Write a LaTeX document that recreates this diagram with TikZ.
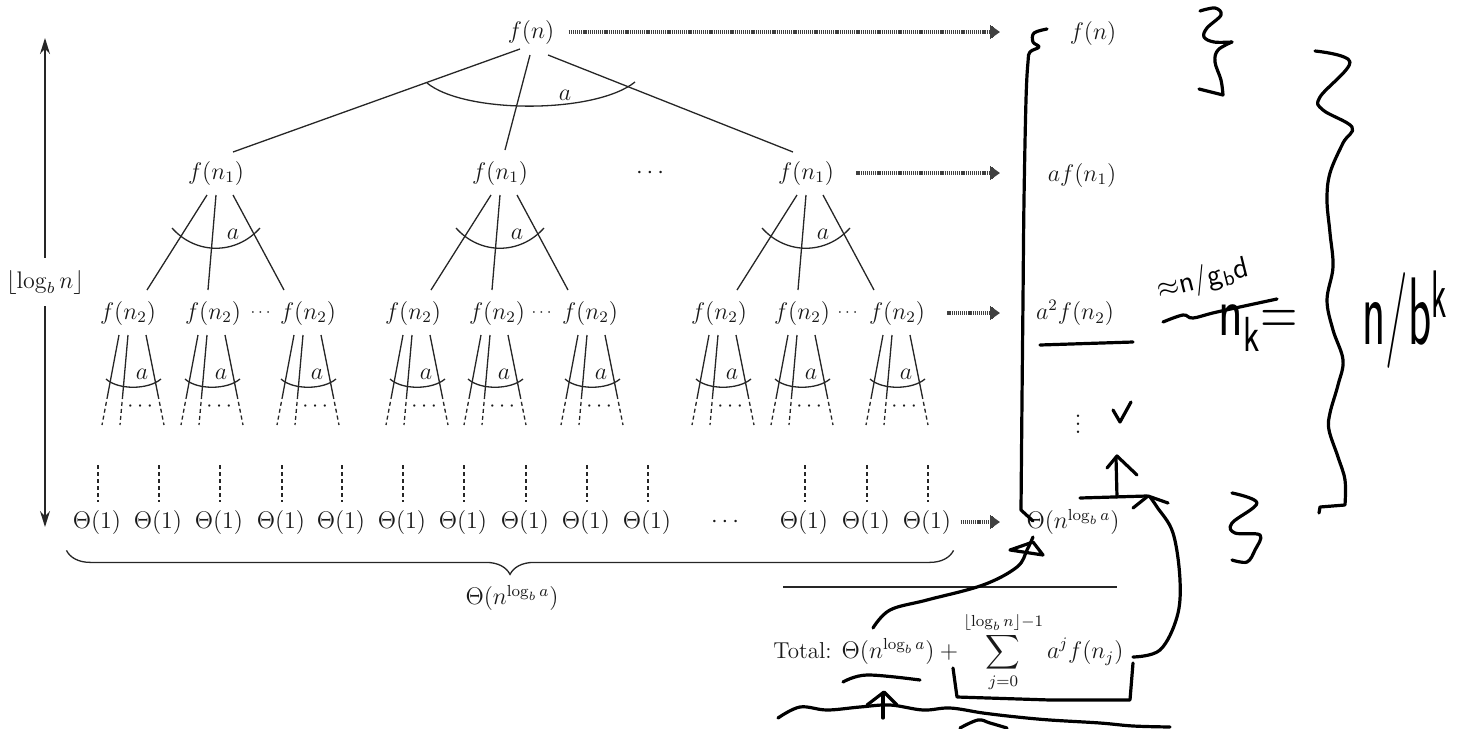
\documentclass[tikz,border=0pt]{standalone}
\usepackage{amsmath}
\usetikzlibrary{arrows.meta,calc,decorations.pathreplacing}
\begin{document}
\begin{tikzpicture}[x=0.5pt,y=-0.5pt,
  lbl/.style={inner sep=1pt,font=\fontsize{11.5}{13}\selectfont,text=black!90},
  smalldots/.style={inner sep=0pt,font=\fontsize{8.5}{10}\selectfont,text=black!90},
  edge/.style={line width=0.65pt,draw=black!85},
  dash2/.style={edge,dash pattern=on 2pt off 1.5pt},
  dotarrow/.style={line width=2pt,draw=black!75,dash pattern=on 0.6pt off 0.45pt,
    -{Bar[width=7pt,line width=0.7pt]Bar[width=6pt,line width=0.7pt]Bar[width=5pt,line width=0.7pt]Triangle[length=3pt,width=4pt]}},
  hand/.style={line width=1.6pt,line cap=round,line join=round,draw=black},
  handtext/.style={inner sep=0pt,text=black,font=\sffamily}
]
\useasboundingbox (0,0) rectangle (1458,729);
\coordinate (ax) at (1000,0);

% ---- root and level 1
\node[lbl] (r) at (531,32) {$f(n)$};
\node[lbl] (c1) at (216,173) {$f(n_1)$};
\node[lbl] (c2) at (500,173) {$f(n_1)$};
\node[lbl] (c3) at (806,173) {$f(n_1)$};
\node[lbl] (cd) at (652,173) {$\cdots$};

\draw[edge] ($(r)+(-11,17)$) -- ($(c1)+(17,-21)$);
\draw[edge] ($(r)+(-1,23)$) -- ($(c2)+(5,-23)$);
\draw[edge] ($(r)+(17,23)$) -- ($(c3)+(-13,-21)$);
\draw[edge] ($(r)+(-104,51)$) .. controls ($(r)+(-66,82)$) and ($(r)+(64,82)$) .. ($(r)+(104,50)$);
\node[lbl] (ar) at ($(r)+(34,63)$) {$a$};

\foreach \c in {c1,c2,c3} {
  \draw[edge] ($(\c)+(-9,22)$) -- ($(\c)+(-69,117)$);
  \draw[edge] ($(\c)+(0,22)$) -- ($(\c)+(-8,117)$);
  \draw[edge] ($(\c)+(17,22)$) -- ($(\c)+(68,117)$);
  \draw[edge] ($(\c)+(-44,55)$) .. controls ($(\c)+(-20,82)$) and ($(\c)+(20,82)$) .. ($(\c)+(44,55)$);
  \node[lbl] (a\c) at ($(\c)+(17,61)$) {$a$};
}

% ---- level 2
\foreach \x/\d [count=\i] in {128/0,213/-6,308/-5,413/-1,497/-7,590/-3,719/-1,802/-5,897/-5} {
  \node[lbl] (g\i) at (\x,313) {$f(n_2)$};
  \draw[edge] ($(g\i)+(\d-9,22)$) -- ($(g\i)+(\d-20.3,82)$);
  \draw[dash2] ($(g\i)+(\d-20.3,82)$) -- ($(g\i)+(\d-26,112)$);
  \draw[edge] ($(g\i)+(\d,22)$) -- ($(g\i)+(\d-5.3,82)$);
  \draw[dash2] ($(g\i)+(\d-5.3,82)$) -- ($(g\i)+(\d-8,112)$);
  \draw[edge] ($(g\i)+(\d+18,22)$) -- ($(g\i)+(\d+30,82)$);
  \draw[dash2] ($(g\i)+(\d+30,82)$) -- ($(g\i)+(\d+36,112)$);
  \draw[edge] ($(g\i)+(\d-22,66)$) .. controls ($(g\i)+(\d-10,77)$) and ($(g\i)+(\d+20,77)$) .. ($(g\i)+(\d+33,66)$);
  \node[lbl] (ga\i) at ($(g\i)+(\d+14,61)$) {$a$};
  \node[lbl,font=\fontsize{10.5}{12}\selectfont] (gd\i) at ($(g\i)+(\d+14,94)$) {$\cdots$};
}
\node[smalldots] (d1) at (262,313) {$\cdots$};
\node[smalldots] (d2) at (543,313) {$\cdots$};
\node[smalldots] (d3) at (849,313) {$\cdots$};

% ---- leaves
\foreach \x [count=\i] in {97,158,219,281,341,402,463,525,586,647,804,866,927} {
  \node[lbl] (t\i) at (\x,522) {$\Theta(1)$};
  \draw[dash2,line width=0.55pt] ($(t\i)+(1,-57)$) -- ($(t\i)+(1,-20)$);
}
\node[lbl] (td) at (727,522) {$\cdots$};

% ---- height arrow
\coordinate (lt) at (45,38);
\coordinate (lb) at (45,527);
\draw[edge,{Stealth[length=8pt,width=5pt]}-{Stealth[length=8pt,width=5pt]}] (lt) -- (lb);
\node[lbl,fill=white,inner ysep=6pt] (lg) at (45,282) {$\lfloor \log_b n \rfloor$};

% ---- brace
\draw[edge,decorate,decoration={brace,mirror,amplitude=12pt}] (t1.south west) ++(-4,14) coordinate (bl) -- (t13.south east |- bl);
\node[lbl] (bt) at (512,598) {$\Theta(n^{\log_b a})$};

% ---- right column
\node[lbl] (R0) at (1093,33) {$f(n)$};
\node[lbl] (R1) at (1082,175) {$af(n_1)$};
\node[lbl] (R2) at (1075,313) {$a^2 f(n_2)$};
\node[lbl,font=\fontsize{15}{15}\selectfont] (R3) at (1078,418) {$\vdots$};
\node[lbl] (R4) at (1073,522) {$\Theta(n^{\log_b a})$};

\draw[dotarrow] ($(r.east)+(12,0)$) -- (r -| ax);
\draw[dotarrow] ($(c3.east)+(20,0)$) -- (c3 -| ax);
\draw[dotarrow] ($(g9.east)+(20,0)$) -- (g9 -| ax);
\draw[dotarrow] ($(t13.east)+(7,0)$) -- (t13 -| ax);

\draw[edge] (783,587) -- (1117,587);
\node[lbl,anchor=west] (tot) at (771,652) {Total: $\Theta(n^{\log_b a}) + \displaystyle\sum_{j=0}^{\lfloor \log_b n\rfloor -1} a^j f(n_j)$};

% ---- handwriting
\draw[hand] plot[smooth,tension=0.6] coordinates {(1047,29) (1034,33) (1033,42) (1039,47) (1030,52) (1028,62) (1026,100) (1024,200) (1023,300) (1022,400) (1021,510)} -- (1033,521);
\draw[hand] plot[smooth,tension=0.6] coordinates {(1200,11) (1215,8) (1221,15) (1207,28) (1204,37) (1214,42) (1232,42)};
\draw[hand] plot[smooth,tension=0.6] coordinates {(1232,42) (1218,50) (1215,62) (1221,80) (1223,95)} -- (1199,89);
\draw[hand] plot[smooth,tension=0.6] coordinates {(1315,51) (1350,62) (1320,97) (1323,110) (1352,127) (1343,143) (1330,173) (1327,200) (1330,233) (1333,267) (1327,300) (1333,330) (1343,360) (1338,385) (1330,413) (1329,430) (1338,457) (1345,480) (1345,505)} -- (1320,507) -- (1319,513);
\draw[hand] (1040,345) -- (1133,342);
\draw[hand] plot[smooth,tension=0.6] coordinates {(1163,322) (1183,315) (1193,318) (1217,312) (1277,299)};
\node[handtext,rotate=14,font=\sffamily\fontsize{15}{15}\selectfont] (hw1) at (1203,280) {$\approx$n/g\textsubscript{b}d};
\node[handtext,font=\sffamily\fontsize{32}{32}\selectfont] (hw2) at (1258,328) {\scalebox{0.8}[1.1]{n\textsubscript{k}=}};
\node[handtext,font=\sffamily\fontsize{32}{32}\selectfont] (hw3) at (1405,320) {\scalebox{0.75}[1.5]{n/b\textsuperscript{k}}};
\draw[hand] (1113,410) -- (1120,422) -- (1131,402);
\draw[hand] (1080,498) -- (1147,496);
\draw[hand] (1117,497) -- (1116,457);
\draw[hand] (1107,468) -- (1117,456) -- (1137,475);
\draw[hand] plot[smooth,tension=0.6] coordinates {(1133,657) (1160,650) (1177,617) (1180,580) (1173,533) (1157,507) (1150,497)};
\draw[hand] (1133,508) -- (1148,496) -- (1168,503);
\draw[hand] plot[smooth,tension=0.6] coordinates {(1232,493) (1257,503) (1232,523) (1235,533) (1260,535) (1255,550) (1247,562) (1232,560)};
\draw[hand] plot[smooth,tension=0.6] coordinates {(873,628) (890,610) (927,600) (983,585) (1017,567) (1027,550) (1033,537)};
\draw[hand] (1010,550) -- (1033,542) -- (1043,555) -- cycle;
\draw[hand] (953,668) -- (957,697) -- (1050,700) -- (1130,700) -- (1133,663);
\draw[hand] plot[smooth,tension=0.6] coordinates {(843,682) (867,675) (920,680)};
\draw[hand] (883,718) -- (883,693);
\draw[hand] (867,705) -- (884,692) -- (897,705);
\draw[hand] plot[smooth,tension=0.6] coordinates {(778,718) (800,707) (827,710) (860,707) (890,705) (923,710) (950,708) (983,713) (1017,717) (1050,720) (1100,723) (1133,726) (1170,727)};
\draw[hand] plot[smooth,tension=0.6] coordinates {(960,728) (978,720) (990,723) (1007,728)};
\end{tikzpicture}
\end{document}
